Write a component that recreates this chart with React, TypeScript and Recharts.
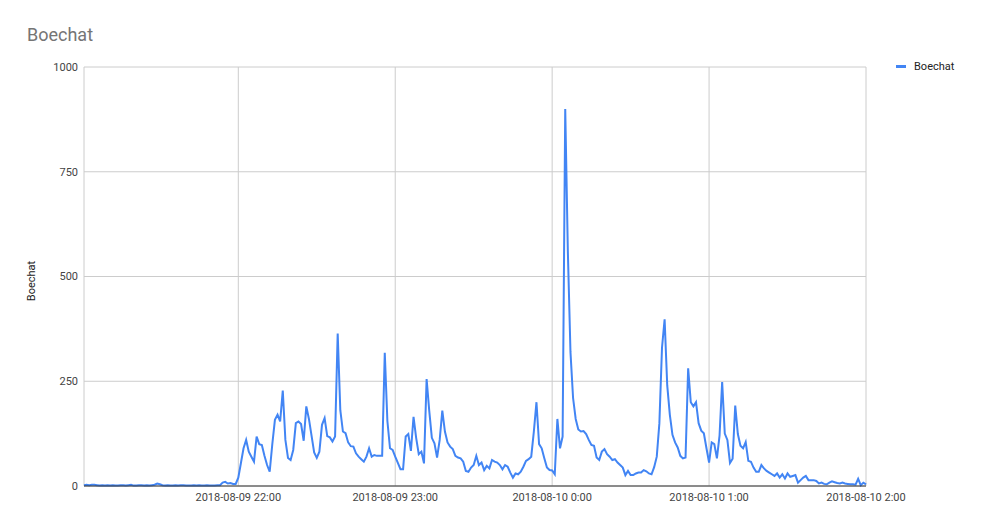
import React from 'react';
import { LineChart, Line, XAxis, YAxis, CartesianGrid } from 'recharts';

// one value per minute, 2018-08-09 21:01 .. 2018-08-10 2:00
const FIRST_MINUTE = -59; // minutes relative to 22:00

const boechat = [
  // 21:01 - 21:58
  2, 3, 2, 3, 3, 2, 1, 2, 1, 2,
  1, 2, 1, 1, 2, 2, 1, 2, 3, 1,
  1, 2, 2, 1, 2, 1, 2, 3, 6, 4,
  2, 1, 2, 1, 1, 2, 1, 2, 2, 1,
  1, 1, 2, 1, 2, 1, 1, 2, 1, 1,
  1, 2, 2, 8, 10, 6, 7, 5,
  // 21:59 -
  5, 20, 55, 90, 110, 82, 70, 58, 118, 100,
  98, 72, 50, 34, 100, 158, 170, 154, 228, 110,
  67, 62, 86, 150, 154, 148, 108, 190, 160, 120,
  80, 67, 82, 146, 162, 119, 116, 106, 118, 364,
  181, 130, 126, 104, 95, 94, 78, 70, 64, 58,
  70, 90, 70, 74, 72, 72, 72, 318, 155, 90,
  86, 70, 55, 40, 40, 118, 124, 84, 165, 115,
  76, 82, 54, 255, 180, 115, 102, 68, 110, 180,
  130, 104, 94, 88, 72, 68, 66, 58, 36, 34,
  44, 50, 72, 50, 56, 38, 48, 42, 62, 58,
  56, 50, 40, 50, 46, 32, 20, 30, 28, 34,
  46, 60, 64, 70, 130, 200, 100, 90, 66, 44,
  38, 37, 28, 160, 90, 118, 900, 560, 320, 210,
  160, 135, 130, 131, 124, 110, 98, 96, 68, 62,
  82, 88, 76, 70, 62, 64, 56, 50, 44, 26,
  36, 26, 26, 30, 32, 32, 38, 35, 30, 28,
  45, 70, 150, 330, 398, 240, 170, 122, 104, 92,
  72, 66, 68, 281, 200, 190, 200, 150, 132, 126,
  90, 56, 104, 100, 66, 120, 248, 125, 110, 55,
  65, 192, 124, 96, 90, 105, 60, 58, 44, 34,
  34, 50, 42, 36, 32, 28, 24, 30, 20, 28,
  18, 30, 22, 24, 26, 8, 14, 20, 24, 14,
  14, 14, 12, 6, 8, 5, 4, 8, 11, 9,
  7, 6, 8, 6, 5, 4, 4, 3, 17, 2,
  8, 4,
];

const hourTicks = [0, 60, 120, 180, 240];
const hourLabels = [
  '2018-08-09 22:00',
  '2018-08-09 23:00',
  '2018-08-10 0:00',
  '2018-08-10 1:00',
  '2018-08-10 2:00',
];
const valueTicks = [0, 250, 500, 750, 1000];

const data = boechat.map((v, i) => ({ t: FIRST_MINUTE + i, Boechat: v }));

const FONT = 'Roboto, Arial, sans-serif';

export default function App() {
  return (
    <div style={{ position: 'fixed', left: 0, top: 0, width: 986, height: 529, background: '#fff' }}>
      <div
        style={{
          position: 'absolute',
          left: 27,
          top: 24,
          fontFamily: FONT,
          fontSize: 18,
          color: '#757575',
        }}
      >
        Boechat
      </div>
      {/* legend */}
      <div
        style={{
          position: 'absolute',
          left: 896,
          top: 60,
          display: 'flex',
          alignItems: 'center',
          fontFamily: FONT,
          fontSize: 11,
          color: '#222',
        }}
      >
        <span style={{ width: 10, height: 3, background: '#4285f4', marginRight: 8 }} />
        <span>Boechat</span>
      </div>
      <LineChart
        width={986}
        height={529}
        data={data}
        margin={{ top: 67, right: 120, bottom: 13, left: 30 }}
      >
        <CartesianGrid stroke="#cccccc" strokeWidth={1} />
        <XAxis
          dataKey="t"
          type="number"
          domain={[FIRST_MINUTE, FIRST_MINUTE + boechat.length - 1]}
          ticks={hourTicks}
          tickFormatter={(v) => hourLabels[hourTicks.indexOf(v)] ?? ''}
          tickSize={0}
          tickMargin={7}
          height={30}
          axisLine={{ stroke: '#333', strokeWidth: 1 }}
          tick={{ fontFamily: FONT, fontSize: 11, fill: '#444' }}
          interval={0}
        />
        <YAxis
          domain={[0, 1000]}
          ticks={valueTicks}
          width={54}
          tickSize={0}
          tickMargin={6}
          axisLine={false}
          tick={{ fontFamily: FONT, fontSize: 11, fill: '#444' }}
          label={{
            content: () => (
              <text
                x={35}
                y={281}
                transform="rotate(-90 35 281)"
                textAnchor="middle"
                fontFamily={FONT}
                fontSize={11}
                fill="#222"
              >
                Boechat
              </text>
            ),
          }}
        />
        <Line
          type="linear"
          dataKey="Boechat"
          stroke="#4285f4"
          strokeWidth={2}
          dot={false}
          isAnimationActive={false}
        />
      </LineChart>
    </div>
  );
}
